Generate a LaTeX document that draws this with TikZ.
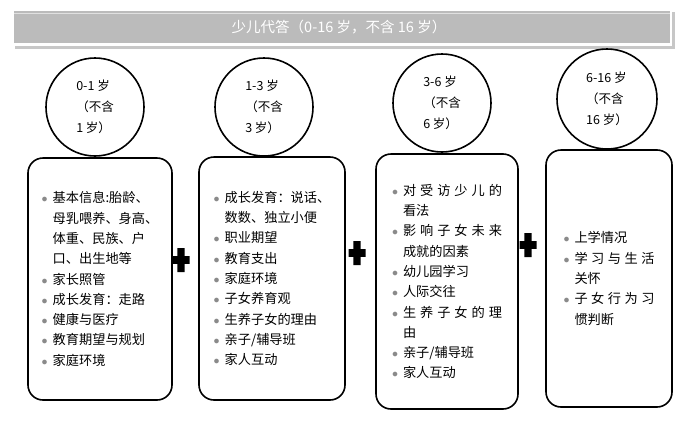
\documentclass[tikz,border=0pt]{standalone}
\usepackage{fontspec}
\setmainfont{Noto Sans CJK SC}
\usetikzlibrary{positioning}
\definecolor{bannergray}{HTML}{BBBBBB}
\definecolor{bulgray}{HTML}{8A8A8A}
\newcommand{\bul}{\makebox[11pt][l]{\textcolor{bulgray}{$\bullet$}}}
\newcommand{\ind}{\hspace*{11pt}}
\newcommand{\spread}[2]{\makebox[#1][s]{#2}}

\begin{document}
\begin{tikzpicture}[x=1pt,y=-1pt,
  agebox/.style={draw,line width=1.6pt,rounded corners=15pt,align=left,inner sep=0pt,font=\fontsize{13.2}{20.3}\selectfont},
  agecirc/.style={draw,circle,line width=1.6pt,minimum size=98pt,inner sep=0pt,align=left,font=\fontsize{12.5}{21}\selectfont}]
\useasboundingbox (0,0) rectangle (685,426);
% title banner
\fill[black!22] (15,12) rectangle (675,49);
\fill[white] (12,8) rectangle (672,46);
\fill[bannergray] (14,11) rectangle (670,43);
\draw[white!55!bannergray] (14,13.5) -- (670,13.5);
\node[text=white,font=\fontsize{14.5}{16}\selectfont] (title) at (339,27) {少儿代答（0-16 岁，不含 16 岁）};
% age groups
\node[agecirc] (c1) at (95,107) {0-1 岁\\（不含\\1 岁）};
\node[agecirc] (c2) at (264,107) {1-3 岁\\（不含\\3 岁）};
\node[agecirc] (c3) at (442,103) {3-6 岁\\（不含\\6 岁）};
\node[agecirc,minimum size=100pt] (c4) at (607,99) {6-16 岁\\（不含\\16 岁）};
\node[agebox,minimum width=144pt,minimum height=242pt] (b1) at (100,279) {%
\bul 基本信息:胎龄、\\\ind 母乳喂养、身高、\\\ind 体重、民族、户\\\ind 口、出生地等\\
\bul 家长照管\\\bul 成长发育：走路\\\bul 健康与医疗\\\bul 教育期望与规划\\\bul 家庭环境};
\node[agebox,minimum width=146pt,minimum height=243pt] (b2) at (272,278.5) {%
\bul 成长发育：说话、\\\ind 数数、独立小便\\\bul 职业期望\\\bul 教育支出\\\bul 家庭环境\\
\bul 子女养育观\\\bul 生养子女的理由\\\bul 亲子/辅导班\\\bul 家人互动};
\node[agebox,minimum width=142pt,minimum height=255pt] (b3) at (447,281.5) {%
\bul \spread{99pt}{对\hfill 受\hfill 访\hfill 少\hfill 儿\hfill 的}\\\ind 看法\\
\bul \spread{99pt}{影\hfill 响\hfill 子\hfill 女\hfill 未\hfill 来}\\\ind 成就的因素\\
\bul 幼儿园学习\\\bul 人际交往\\
\bul \spread{99pt}{生\hfill 养\hfill 子\hfill 女\hfill 的\hfill 理}\\\ind 由\\
\bul 亲子/辅导班\\\bul 家人互动};
\node[agebox,minimum width=126pt,minimum height=257pt] (b4) at (609,278.5) {%
\bul 上学情况\\\bul \spread{80pt}{学\hfill 习\hfill 与\hfill 生\hfill 活}\\\ind 关怀\\
\bul \spread{80pt}{子\hfill 女\hfill 行\hfill 为\hfill 习}\\\ind 惯判断};
% plus signs
\foreach \px/\py in {181/260, 357/253, 528/245}
  \fill (\px-8.5,\py-3.8) rectangle (\px+8.5,\py+3.8)
        (\px-3.6,\py-12) rectangle (\px+3.6,\py+12);
\end{tikzpicture}
\end{document}
